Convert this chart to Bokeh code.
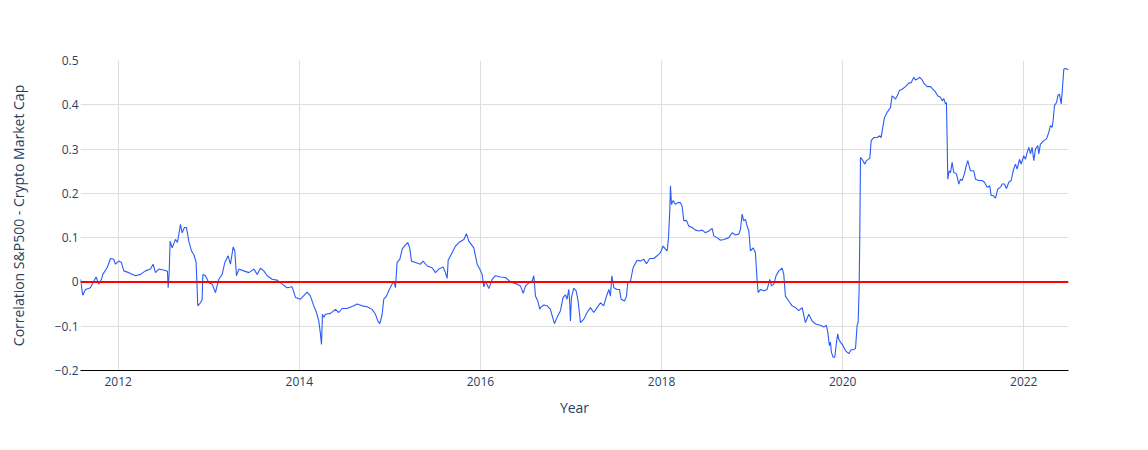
from bokeh.plotting import figure
from bokeh.models import Range1d, FixedTicker, CustomJSTickFormatter, Span
from bokeh.embed import file_html
from bokeh.resources import INLINE

years = [
    2011.584, 2011.609, 2011.639, 2011.694, 2011.731, 2011.757, 2011.786, 2011.816, 2011.830, 2011.878,
    2011.915, 2011.952, 2011.970, 2012.007, 2012.036, 2012.062, 2012.117, 2012.191, 2012.246, 2012.301,
    2012.357, 2012.386, 2012.412, 2012.449, 2012.522, 2012.544, 2012.552, 2012.563, 2012.574, 2012.596,
    2012.633, 2012.655, 2012.688, 2012.706, 2012.732, 2012.754, 2012.780, 2012.809, 2012.835, 2012.861,
    2012.879, 2012.909, 2012.927, 2012.935, 2012.964, 2013.001, 2013.038, 2013.074, 2013.111, 2013.148,
    2013.178, 2013.214, 2013.240, 2013.270, 2013.288, 2013.306, 2013.332, 2013.387, 2013.443, 2013.498,
    2013.535, 2013.571, 2013.608, 2013.645, 2013.700, 2013.755, 2013.811, 2013.866, 2013.921, 2013.958,
    2014.013, 2014.087, 2014.123, 2014.160, 2014.190, 2014.215, 2014.234, 2014.245, 2014.256, 2014.271,
    2014.289, 2014.344, 2014.400, 2014.436, 2014.473, 2014.528, 2014.602, 2014.639, 2014.694, 2014.749,
    2014.804, 2014.841, 2014.867, 2014.889, 2014.915, 2014.933, 2014.963, 2014.988, 2015.014, 2015.044,
    2015.062, 2015.080, 2015.110, 2015.136, 2015.161, 2015.198, 2015.220, 2015.239, 2015.283, 2015.338,
    2015.368, 2015.412, 2015.467, 2015.504, 2015.541, 2015.588, 2015.614, 2015.633, 2015.644, 2015.688,
    2015.725, 2015.762, 2015.817, 2015.846, 2015.872, 2015.927, 2015.964, 2015.993, 2016.019, 2016.038,
    2016.056, 2016.093, 2016.130, 2016.166, 2016.222, 2016.277, 2016.332, 2016.406, 2016.443, 2016.472,
    2016.498, 2016.535, 2016.571, 2016.590, 2016.608, 2016.634, 2016.656,
    2016.663, 2016.700, 2016.737, 2016.773, 2016.803, 2016.818, 2016.847, 2016.884, 2016.913, 2016.939,
    2016.957, 2016.976, 2016.987, 2016.994, 2017.005, 2017.031, 2017.057, 2017.079, 2017.105, 2017.142,
    2017.178, 2017.215, 2017.252, 2017.289, 2017.326, 2017.362, 2017.388, 2017.418, 2017.436, 2017.451,
    2017.473, 2017.510, 2017.535, 2017.554, 2017.591, 2017.613, 2017.627, 2017.657, 2017.686, 2017.730,
    2017.767, 2017.804, 2017.834, 2017.870, 2017.915, 2017.951, 2017.988, 2018.018, 2018.043, 2018.062,
    2018.077, 2018.091, 2018.099, 2018.110, 2018.128, 2018.154, 2018.180, 2018.209, 2018.227, 2018.246,
    2018.275, 2018.301, 2018.338, 2018.375, 2018.411, 2018.448, 2018.485, 2018.522, 2018.559, 2018.577,
    2018.614, 2018.651, 2018.688, 2018.743, 2018.780, 2018.816, 2018.853, 2018.872, 2018.890, 2018.908,
    2018.927, 2018.945, 2018.964, 2018.982, 2019.011, 2019.037, 2019.056, 2019.067, 2019.093, 2019.129,
    2019.166, 2019.196, 2019.214, 2019.240, 2019.265, 2019.295, 2019.332, 2019.350, 2019.368, 2019.405,
    2019.442, 2019.479, 2019.516, 2019.553, 2019.589, 2019.626, 2019.663, 2019.700,
    2019.755, 2019.792, 2019.821, 2019.836, 2019.854, 2019.865, 2019.876, 2019.895, 2019.913, 2019.932,
    2019.946, 2019.957, 2019.976, 2020.005, 2020.031, 2020.068, 2020.094, 2020.123, 2020.142, 2020.160,
    2020.171, 2020.182, 2020.189, 2020.197, 2020.215, 2020.245, 2020.263, 2020.300, 2020.315, 2020.344,
    2020.381, 2020.410, 2020.425, 2020.443, 2020.462, 2020.491, 2020.528, 2020.546, 2020.565, 2020.583,
    2020.602, 2020.627, 2020.657, 2020.694, 2020.730, 2020.756, 2020.786, 2020.804, 2020.830, 2020.852,
    2020.878, 2020.903, 2020.933, 2020.970, 2020.999, 2021.025, 2021.051, 2021.080, 2021.099, 2021.117,
    2021.135, 2021.146, 2021.154, 2021.161, 2021.176, 2021.191, 2021.209, 2021.227, 2021.257, 2021.283,
    2021.301, 2021.319, 2021.345, 2021.364, 2021.382, 2021.411, 2021.448, 2021.467, 2021.503, 2021.540,
    2021.566, 2021.596, 2021.625, 2021.640, 2021.662, 2021.688, 2021.713, 2021.743, 2021.761, 2021.787,
    2021.809, 2021.835, 2021.861, 2021.883, 2021.908, 2021.927, 2021.953, 2021.971, 2022.000, 2022.019,
    2022.037, 2022.056, 2022.074, 2022.092, 2022.111, 2022.129, 2022.155, 2022.166, 2022.184, 2022.221,
    2022.251, 2022.277, 2022.295, 2022.313, 2022.324, 2022.339, 2022.361, 2022.379, 2022.394, 2022.413,
    2022.424, 2022.442, 2022.460, 2022.494,
]

# Correlation S&P500 - Crypto Market Cap
correlation = [
    0.006, -0.030, -0.017, -0.013, 0.002, 0.011, -0.005, 0.006, 0.017, 0.032,
    0.053, 0.051, 0.040, 0.047, 0.044, 0.025, 0.021, 0.014, 0.017, 0.025,
    0.029, 0.040, 0.021, 0.029, 0.026, 0.024, -0.013, 0.020, 0.092, 0.077,
    0.096, 0.089, 0.130, 0.111, 0.123, 0.123, 0.092, 0.070, 0.062, 0.044,
    -0.054, -0.047, -0.040, 0.017, 0.014, -0.002, -0.005, -0.024, 0.006, 0.017,
    0.044, 0.059, 0.040, 0.079, 0.070, 0.014, 0.029, 0.025, 0.021, 0.029,
    0.017, 0.031, 0.025, 0.014, 0.006, 0.004, -0.005, -0.013, -0.011, -0.035,
    -0.039, -0.023, -0.032, -0.054, -0.069, -0.088, -0.118, -0.141, -0.073, -0.080,
    -0.073, -0.071, -0.062, -0.069, -0.060, -0.060, -0.054, -0.050, -0.054, -0.056,
    -0.062, -0.073, -0.088, -0.094, -0.073, -0.039, -0.032, -0.020, -0.009, 0.002,
    -0.013, 0.044, 0.051, 0.074, 0.081, 0.089, 0.077, 0.047, 0.044, 0.040,
    0.047, 0.036, 0.032, 0.021, 0.029, 0.034, 0.021, 0.008, 0.049, 0.066,
    0.081, 0.089, 0.096, 0.109, 0.092, 0.077, 0.040, 0.029, 0.017, -0.011,
    0.002, -0.015, 0.006, 0.014, 0.011, 0.010, 0.000, -0.005, -0.009, -0.026,
    -0.009, -0.002, 0.002, 0.014, -0.032, -0.043, -0.062,
    -0.058, -0.052, -0.054, -0.062, -0.084, -0.094, -0.080, -0.065, -0.035, -0.029,
    -0.039, -0.017, -0.050, -0.088, -0.035, -0.014, -0.020, -0.043, -0.092, -0.084,
    -0.069, -0.058, -0.069, -0.058, -0.047, -0.054, -0.035, -0.017, -0.032, 0.014,
    -0.013, -0.017, -0.017, -0.039, -0.043, -0.032, -0.002, 0.002, 0.032, 0.049,
    0.047, 0.051, 0.041, 0.053, 0.053, 0.059, 0.066, 0.081, 0.074, 0.070,
    0.100, 0.160, 0.217, 0.175, 0.184, 0.175, 0.179, 0.179, 0.171, 0.138,
    0.139, 0.126, 0.123, 0.117, 0.115, 0.117, 0.111, 0.115, 0.121, 0.104,
    0.100, 0.094, 0.096, 0.100, 0.111, 0.106, 0.108, 0.119, 0.153, 0.138,
    0.141, 0.126, 0.115, 0.070, 0.077, 0.066, 0.002, -0.024, -0.017, -0.020,
    -0.017, 0.006, -0.009, -0.005, 0.014, 0.025, 0.031, 0.017, -0.032, -0.043,
    -0.054, -0.058, -0.065, -0.058, -0.092, -0.073, -0.088, -0.095,
    -0.098, -0.102, -0.098, -0.114, -0.144, -0.136, -0.159, -0.170, -0.170, -0.136,
    -0.117, -0.129, -0.136, -0.144, -0.155, -0.162, -0.153, -0.153, -0.150, -0.098,
    -0.091, -0.016, 0.097, 0.281, 0.277, 0.266, 0.274, 0.279, 0.319, 0.326,
    0.326, 0.330, 0.326, 0.349, 0.371, 0.383, 0.394, 0.420, 0.417, 0.413,
    0.420, 0.432, 0.435, 0.441, 0.449, 0.450, 0.462, 0.456, 0.459, 0.462,
    0.456, 0.447, 0.441, 0.441, 0.435, 0.429, 0.420, 0.417, 0.409, 0.414,
    0.402, 0.405, 0.323, 0.232, 0.251, 0.247, 0.270, 0.247, 0.244, 0.221,
    0.232, 0.229, 0.244, 0.262, 0.274, 0.251, 0.251, 0.232, 0.229, 0.229,
    0.225, 0.214, 0.217, 0.195, 0.195, 0.189, 0.210, 0.214, 0.221, 0.221,
    0.211, 0.225, 0.229, 0.251, 0.266, 0.255, 0.277, 0.266, 0.285, 0.277,
    0.292, 0.304, 0.289, 0.304, 0.274, 0.300, 0.308, 0.289, 0.311, 0.319,
    0.323, 0.338, 0.353, 0.349, 0.364, 0.398, 0.405, 0.422, 0.424, 0.402,
    0.428, 0.480, 0.482, 0.479,
]

x_ticks = [2012, 2014, 2016, 2018, 2020, 2022]
y_ticks = [-0.2, -0.1, 0.0, 0.1, 0.2, 0.3, 0.4, 0.5]
y_min, y_max = -0.2, 0.5

FONT = "Open Sans"
TXT = "#2a3f5f"

p = figure(width=1132, height=434, output_backend="svg", toolbar_location=None,
           x_range=Range1d(min(years), max(years)), y_range=Range1d(y_min, y_max),
           min_border_left=80, min_border_right=64, min_border_top=60, min_border_bottom=64)
p.background_fill_color = "white"
p.border_fill_color = "white"
p.outline_line_color = None

p.line(years, correlation, line_color="#2a5cf5", line_width=1.1)

zero = Span(location=0, dimension="width", line_color="#ff0000", line_width=2)
p.add_layout(zero)

p.xaxis.ticker = FixedTicker(ticks=x_ticks)
p.yaxis.ticker = FixedTicker(ticks=y_ticks)
p.xaxis.formatter = CustomJSTickFormatter(code="return tick.toFixed(0);")
p.yaxis.formatter = CustomJSTickFormatter(code="""
    if (Math.abs(tick) < 1e-9) return "0";
    var s = Math.abs(tick).toFixed(1);
    return tick < 0 ? "\u2212" + s : s;
""")

p.xgrid.grid_line_color = "#dedede"
p.ygrid.grid_line_color = "#dedede"
p.xgrid.grid_line_width = 1
p.ygrid.grid_line_width = 1

for ax in (p.xaxis, p.yaxis):
    ax.major_tick_line_color = None
    ax.minor_tick_line_color = None
    ax.major_tick_out = 0
    ax.major_tick_in = 0
    ax.minor_tick_out = 0
    ax.minor_tick_in = 0
    ax.major_label_text_font = FONT
    ax.major_label_text_font_size = "12px"
    ax.major_label_text_color = TXT
    ax.axis_label_text_font = FONT
    ax.axis_label_text_font_size = "14px"
    ax.axis_label_text_color = TXT
    ax.axis_label_text_font_style = "normal"

p.xaxis.axis_line_color = "black"
p.xaxis.axis_line_width = 1
p.yaxis.axis_line_color = None
p.xaxis.axis_label = "Year"
p.yaxis.axis_label = "Correlation S&P500 - Crypto Market Cap"
p.xaxis.major_label_standoff = 6
p.yaxis.major_label_standoff = 2
p.xaxis.axis_label_standoff = 9
p.yaxis.axis_label_standoff = 24

open("out.html", "w").write(file_html(p, INLINE))
